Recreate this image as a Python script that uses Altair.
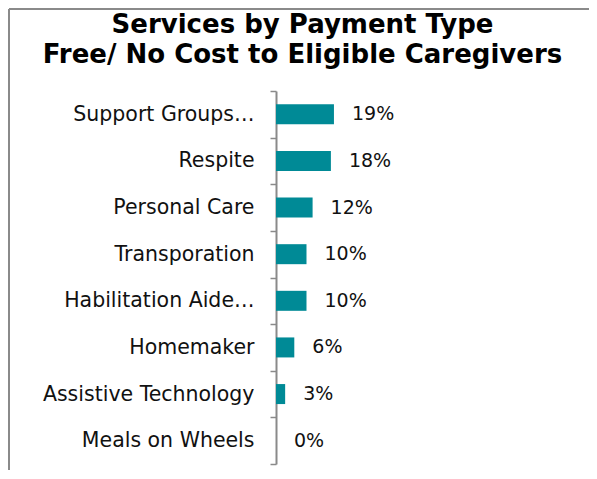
import altair as alt
import pandas as pd

categories = ["Support Groups…", "Respite", "Personal Care", "Transporation",
              "Habilitation Aide…", "Homemaker", "Assistive Technology", "Meals on Wheels"]
values = [19, 18, 12, 10, 10, 6, 3, 0]
value_labels = ["19%", "18%", "12%", "10%", "10%", "6%", "3%", "0%"]
title_lines = ["Services by Payment Type", "Free/ No Cost to Eligible Caregivers"]

df = pd.DataFrame({"cat": categories, "val": values, "lab": value_labels})
one = pd.DataFrame({"k": [0]})

FONT = "DejaVu Sans"
TEAL = "#008A96"
GRAY = "#8a8a8a"

y_enc = alt.Y("cat:N", sort=categories, title=None,
              scale=alt.Scale(paddingInner=0, paddingOuter=0),
              axis=alt.Axis(tickBand="extent", labelFont=FONT, labelFontSize=20.5,
                            labelColor="#111111", labelPadding=16, labelLimit=300,
                            domainColor=GRAY, domainWidth=2, tickColor=GRAY,
                            tickWidth=1.5, tickSize=6, grid=False))
x_enc = alt.X("val:Q", scale=alt.Scale(domain=[0, 100]), axis=None)

bars = alt.Chart(df).mark_bar(color=TEAL, height=20).encode(x=x_enc, y=y_enc)
texts = alt.Chart(df).mark_text(align="left", baseline="middle", dx=18,
                                font=FONT, fontSize=19, color="#111111").encode(
    x=x_enc, y=alt.Y("cat:N", sort=categories), text="lab:N")

left_line = alt.Chart(one).mark_rule(color=GRAY, strokeWidth=2).encode(
    x=alt.value(-267), y=alt.value(-82), y2=alt.value(382))
top_line = alt.Chart(one).mark_rule(color=GRAY, strokeWidth=2).encode(
    x=alt.value(-267), x2=alt.value(313), y=alt.value(-82))

chart = alt.layer(bars, texts, left_line, top_line).properties(
    width=305, height=373,
    autosize=alt.AutoSizeParams(type="none"),
    padding={"left": 268, "top": 83, "right": 8, "bottom": 6},
    title=alt.TitleParams(text=title_lines, anchor="middle", font=FONT,
                          fontSize=26, fontWeight="bold", color="#000000",
                          dx=-126, dy=80, offset=20, lineHeight=30),
).configure_view(stroke=None)

chart.save("out.html", embed_options={"renderer": "svg", "actions": False})
